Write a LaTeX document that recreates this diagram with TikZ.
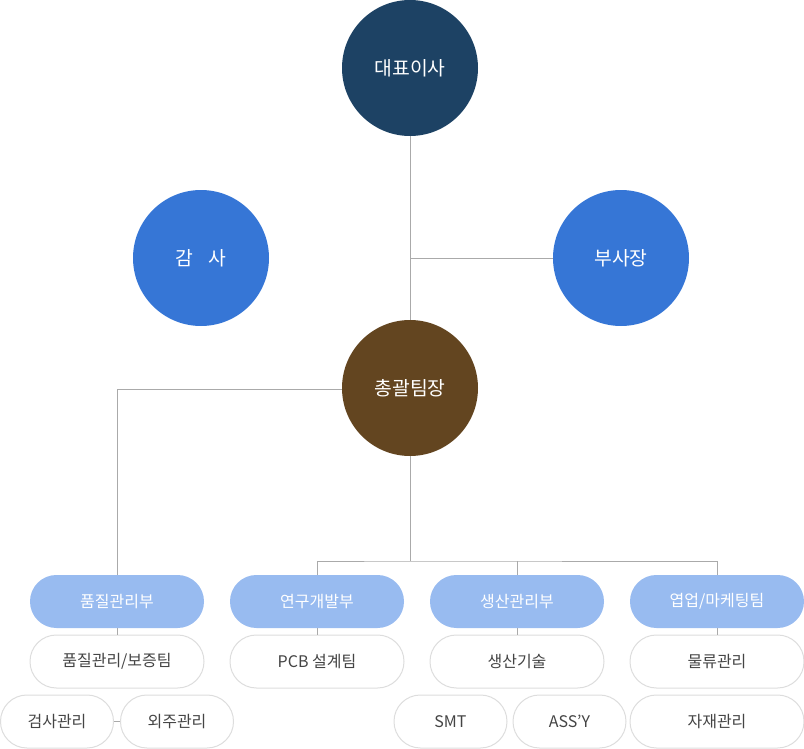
\documentclass[tikz,border=0pt]{standalone}
\usepackage{fontspec}
\setmainfont{Noto Sans CJK KR}
\begin{document}
\begin{tikzpicture}[x=0.75pt,y=-0.75pt,
  circ/.style={circle,minimum size=102pt,inner sep=0pt,text=white,font=\fontsize{14.5pt}{17pt}\selectfont},
  dept/.style={rectangle,rounded corners=19.8pt,minimum width=130.5pt,minimum height=39.75pt,inner sep=0pt,fill=pillblue,text=white,font=\fontsize{12pt}{14pt}\selectfont},
  team/.style={rectangle,rounded corners=19.8pt,minimum width=130.5pt,minimum height=39.75pt,inner sep=0pt,draw=pillgray,line width=0.75pt,fill=white,text=textgray,font=\fontsize{12pt}{14pt}\selectfont},
  small/.style={team,minimum width=84.75pt},
  conn/.style={draw=linegray,line width=0.75pt}]
\definecolor{navy}{HTML}{1D4264}
\definecolor{bluec}{HTML}{3676D6}
\definecolor{brownc}{HTML}{634520}
\definecolor{pillblue}{HTML}{98BBF0}
\definecolor{pillgray}{HTML}{DDDDDD}
\definecolor{textgray}{HTML}{444444}
\definecolor{linegray}{HTML}{AAAAAA}
\useasboundingbox (0,0) rectangle (804,749);
% circles
\node[circ,fill=navy] (ceo) at (410,68) {대표이사};
\node[circ,fill=bluec] (audit) at (201,258) {감\hspace{0.75em}사};
\node[circ,fill=bluec] (vp) at (621,258) {부사장};
\node[circ,fill=brownc] (gm) at (410,388) {총괄팀장};
% departments
\node[dept] (d1) at (117,601.5) {품질관리부};
\node[dept] (d2) at (317,601.5) {연구개발부};
\node[dept] (d3) at (517,601.5) {생산관리부};
\node[dept] (d4) at (717,601.5) {엽업/마케팅팀};
% teams
\node[team] (t1) at (117,661.5) {품질관리/보증팀};
\node[team] (t2) at (317,661.5) {PCB 설계팀};
\node[team] (t3) at (517,661.5) {생산기술};
\node[team] (t4) at (717,661.5) {물류관리};
\node[small] (s1) at (57,721.5) {검사관리};
\node[small] (s2) at (177,721.5) {외주관리};
\node[small] (s3) at (450.5,721.5) {SMT};
\node[small] (s4) at (569.5,721.5) {ASS'Y};
\node[team] (s5) at (717,721.5) {자재관리};
% coordinates
\coordinate (j1) at (410,258);
\coordinate (j2) at (410,561);
\coordinate (k1) at (117,389);
% connectors
\draw[conn] (ceo.south) -- (gm.north);
\draw[conn] (j1) -- (vp.west);
\draw[conn] (gm.west |- k1) -- (k1) -- (d1.north);
\draw[conn] (gm.south) -- (j2);
\draw[conn] (d2.north) |- (j2) -| (d4.north);
\draw[conn] (d3.north) -- (d3.north |- j2);
\draw[conn] (d1.south) -- (t1.north);
\draw[conn] (d2.south) -- (t2.north);
\draw[conn] (d3.south) -- (t3.north);
\draw[conn] (d4.south) -- (t4.north);
\draw[conn] (s1.east) -- (s2.west);
\end{tikzpicture}
\end{document}
